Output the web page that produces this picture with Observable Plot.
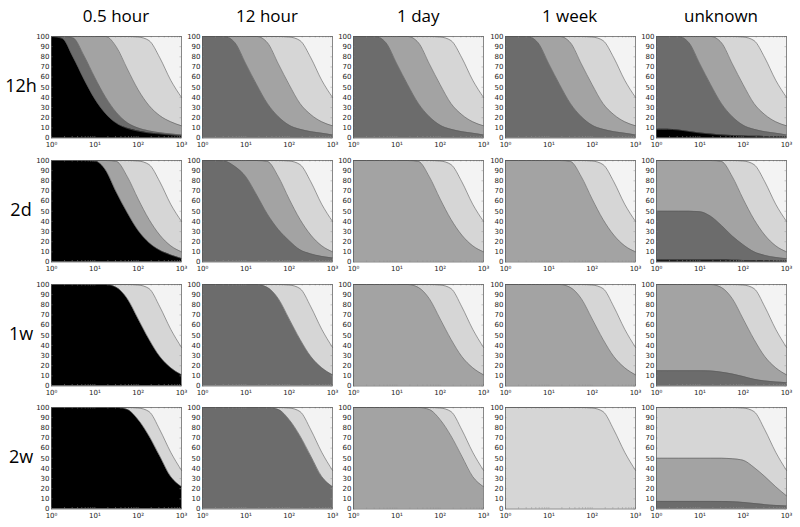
<!DOCTYPE html>
<html><head><meta charset="utf-8">
<script src="https://cdn.jsdelivr.net/npm/d3@7"></script>
<script src="https://cdn.jsdelivr.net/npm/@observablehq/plot@0.6"></script>
<style>
body{margin:0;background:#fff;}
#chart{position:relative;width:800px;height:527px;overflow:hidden;font-family:"Open Sans",sans-serif;background:#fff;}
.coltitle{position:absolute;top:4px;width:130px;text-align:center;font-size:17px;color:#000;white-space:nowrap;}
.rowlabel{position:absolute;left:0;width:42px;text-align:center;font-size:18px;color:#000;line-height:22px;}
.panel{position:absolute;}
</style></head><body><div id="chart"></div>
<script>
// ---- data ----
const columnTitles = ["0.5 hour", "12 hour", "1 day", "1 week", "unknown"];
const rowLabels = ["12h", "2d", "1w", "2w"];
const categories = ["0.5 hour", "12 hour", "1 day", "1 week", "unknown"];
const sampleX = [1, 1.778, 3.162, 5.623, 10, 17.78, 31.62, 56.23, 100, 177.8, 316.2, 562.3, 1000];
const yTicks = [0, 10, 20, 30, 40, 50, 60, 70, 80, 90, 100];
const xTicks = [1, 10, 100, 1000];
const xTickLabels = ["10⁰", "10¹", "10²", "10³"];
const xMinorTicks = [2,3,4,5,6,7,8,9,20,30,40,50,60,70,80,90,200,300,400,500,600,700,800,900];

// cumulative boundary curves (percent), read at sampleX
const A  = [100, 98, 79.5, 58, 38.5, 24, 14.5, 9.5, 6.8, 5, 4, 3, 2];
const D0 = [100, 100, 98.5, 81, 59.5, 40, 25, 15, 9.8, 7, 5.2, 4, 3];
const M0 = [100, 100, 100, 100, 100, 100, 89.5, 68, 47.5, 32, 22, 16, 12];
const L  = [100, 100, 100, 100, 100, 100, 100, 100, 99.5, 96, 79, 57, 40];
const D1 = [100, 100, 100, 93.8, 73, 52.5, 33.8, 21, 12.6, 8.5, 6.2, 4.7, 3];
const M1 = [100, 100, 100, 100, 100, 100, 93.8, 73, 52.5, 34, 23, 16, 12];
const K1 = [8.5, 8.5, 8, 6.5, 5, 4, 3, 2.5, 2, 1.7, 1.5, 1.2, 1];
const B2 = [100, 100, 100, 100, 99.5, 90.5, 68.5, 48.5, 31, 19, 11.5, 7, 3.5];
const D2 = [100, 100, 99.5, 94, 84, 66, 47, 32, 21, 12, 8, 5.5, 4];
const M2 = [100, 100, 100, 100, 100, 100, 99, 84, 62, 42, 26.5, 16, 10];
const K2 = [2, 2, 2, 2, 2, 2, 1.9, 1.8, 1.6, 1.4, 1.2, 1.1, 1];
const DP2 = [50, 50, 50, 50, 49.5, 45, 36, 25.5, 17, 10, 6.5, 4.5, 3.3];
const B3 = [100, 100, 100, 100, 100, 100, 97, 86, 66, 46, 29, 18, 11];
const L2 = [100, 100, 100, 100, 100, 100, 100, 100, 99.5, 96, 78, 56, 38];
const DP3 = [15, 15, 15, 15, 15, 14.8, 13.6, 11.8, 9.3, 6.6, 5, 3.9, 3.3];
const B4 = [100, 100, 100, 100, 100, 100, 100, 98, 88, 72, 52, 32, 22];
const DP4 = [7.5, 7.5, 7.5, 7.5, 7.5, 7.5, 7.4, 7.1, 6.5, 5.4, 4.3, 3.5, 3];
const MP4 = [50, 50, 50, 50, 50, 50, 50, 49.5, 48, 41, 32, 22, 13];
const FULL = [100, 100, 100, 100, 100, 100, 100, 100, 100, 100, 100, 100, 100];

// panels (row-major): [category index, boundary curve] from bottom up
const panelLayers = [
  [[0,"A"],[1,"D0"],[2,"M0"],[3,"L"]],
  [[1,"D1"],[2,"M1"],[3,"L"]],
  [[1,"D1"],[2,"M1"],[3,"L"]],
  [[1,"D1"],[2,"M1"],[3,"L"]],
  [[0,"K1"],[1,"D1"],[2,"M1"],[3,"L"]],

  [[0,"B2"],[2,"M2"],[3,"L"]],
  [[1,"D2"],[2,"M2"],[3,"L"]],
  [[2,"M2"],[3,"L"]],
  [[2,"M2"],[3,"L"]],
  [[0,"K2"],[1,"DP2"],[2,"M2"],[3,"L"]],

  [[0,"B3"],[3,"L2"]],
  [[1,"B3"],[3,"L2"]],
  [[2,"B3"],[3,"L2"]],
  [[2,"B3"],[3,"L2"]],
  [[1,"DP3"],[2,"B3"],[3,"L2"]],

  [[0,"B4"],[3,"L2"]],
  [[1,"B4"],[3,"L2"]],
  [[2,"B4"],[3,"L2"]],
  [[3,"L2"]],
  [[1,"DP4"],[2,"MP4"],[3,"L2"]]
];

// ---- style / layout ----
const curveByName = {A, D0, M0, L, D1, M1, K1, B2, D2, M2, K2, DP2, B3, L2, DP3, B4, DP4, MP4, FULL};
const categoryColors = ["#000000", "#6c6c6c", "#a3a3a3", "#d6d6d6", "#f3f3f3"];
const frameLefts = [51, 202, 353.3, 504.6, 656];
const frameTops = [35.5, 159.5, 283.5, 406.5];
const frameW = 130, frameH = 101.5;
const mL = 22, mR = 8, mT = 4, mB = 15;

const chart = document.getElementById("chart");

columnTitles.forEach((t, c) => {
  const d = document.createElement("div");
  d.className = "coltitle";
  d.style.left = frameLefts[c] + "px";
  d.textContent = t;
  chart.appendChild(d);
});
rowLabels.forEach((t, r) => {
  const d = document.createElement("div");
  d.className = "rowlabel";
  d.style.top = (frameTops[r] + frameH / 2 - 12) + "px";
  d.textContent = t;
  chart.appendChild(d);
});

for (let r = 0; r < 4; r++) {
  for (let c = 0; c < 5; c++) {
    const stack = [...panelLayers[r * 5 + c], [4, "FULL"]];
    const marks = [];
    for (let k = stack.length - 1; k >= 0; k--) {
      const [cat, name] = stack[k];
      const vals = curveByName[name];
      marks.push(Plot.areaY(sampleX, {x: d => d, y1: 0, y2: (d, i) => vals[i], fill: categoryColors[cat], curve: "monotone-x"}));
    }
    for (let k = 0; k < stack.length - 1; k++) {
      const vals = curveByName[stack[k][1]];
      marks.push(Plot.line(sampleX, {x: d => d, y: (d, i) => vals[i], stroke: "#5a5a5a", strokeWidth: 0.6, curve: "monotone-x"}));
    }
    marks.push(Plot.tickX(xMinorTicks.concat(xTicks), {x: d => d, insetTop: frameH - 1.5, stroke: "#999", strokeWidth: 0.5}));
    marks.push(Plot.tickX(xMinorTicks.concat(xTicks), {x: d => d, insetBottom: frameH - 1.5, stroke: "#999", strokeWidth: 0.5}));
    marks.push(Plot.tickY(yTicks, {y: d => d, insetRight: frameW - 1.5, stroke: "#999", strokeWidth: 0.5}));
    marks.push(Plot.tickY(yTicks, {y: d => d, insetLeft: frameW - 1.5, stroke: "#999", strokeWidth: 0.5}));
    marks.push(Plot.frame({stroke: "#555", strokeWidth: 0.7}));

    const svg = Plot.plot({
      width: frameW + mL + mR,
      height: frameH + mT + mB,
      marginLeft: mL, marginRight: mR, marginTop: mT, marginBottom: mB,
      x: {type: "log", domain: [1, 1000], ticks: xTicks, tickFormat: d => xTickLabels[Math.round(Math.log10(d))], tickSize: 0, tickPadding: 4.5, label: null},
      y: {domain: [0, 100], ticks: yTicks, tickSize: 0, tickPadding: 2, label: null},
      style: {fontSize: "7px", fontFamily: "'DejaVu Sans', Arial, sans-serif", color: "#222", background: "transparent", overflow: "visible"},
      marks
    });
    const wrap = document.createElement("div");
    wrap.className = "panel";
    wrap.style.left = (frameLefts[c] - mL) + "px";
    wrap.style.top = (frameTops[r] - mT) + "px";
    wrap.appendChild(svg);
    chart.appendChild(wrap);
  }
}
</script>
</body></html>
